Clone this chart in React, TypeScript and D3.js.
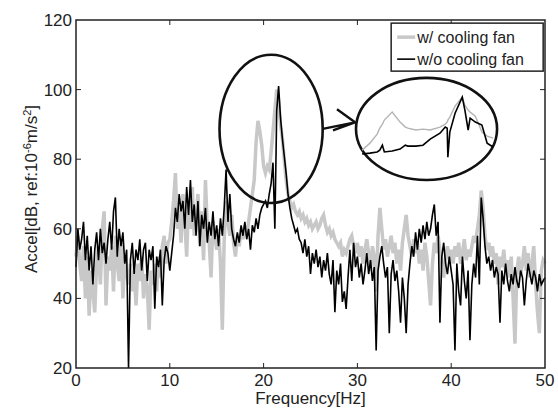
import * as d3 from 'd3';
import { useEffect, useRef } from 'react';

// spectra sampled every 0.2 Hz, 0..50 Hz
const freqStep = 0.2;

const withFan = [
  52, 58, 50, 45, 55, 40, 52, 35, 48, 42, 36, 50, 55, 44, 60, 65, 38, 52, 48, 55,
  42, 58, 50, 45, 56, 40, 52, 47, 44, 50, 42, 48, 38, 50, 45, 52, 40, 47, 43, 31,
  48, 44, 50, 42, 52, 46, 55, 58, 50, 56,
  57, 62, 68, 76, 60, 66, 56, 70, 62, 52, 68, 60, 72, 58, 63, 70, 55, 65, 51, 74,
  60, 56, 46, 62, 58, 54, 60, 50, 31, 57, 68, 62, 58, 64, 56, 52, 58, 55, 60, 57,
  61, 58, 62, 66, 70, 74, 85, 91, 88, 84,
  78, 76, 78, 77, 82, 88, 94, 100, 97, 90, 86, 80, 74, 70, 68, 66, 67, 65, 64, 65,
  63, 64, 62, 63, 61, 62, 60, 61, 62, 60, 61, 63, 64, 61, 59, 60, 58, 59, 57, 56,
  55, 56, 52, 54, 53, 55, 57, 58, 55, 53,
  56, 52, 55, 50, 54, 57, 53, 48, 55, 52, 42, 58, 66, 60, 54, 57, 52, 55, 58, 53,
  56, 50, 54, 48, 56, 60, 64, 58, 55, 52, 57, 53, 56, 50, 54, 48, 56, 52, 45, 38,
  50, 56, 53, 58, 54, 50, 46, 52, 55, 51,
  54, 50, 55, 52, 56, 50, 53, 57, 51, 54, 52, 55, 58, 56, 60, 64, 71, 66, 58, 54,
  56, 52, 55, 50, 53, 44, 52, 49, 54, 48, 51, 46, 52, 40, 27, 48, 52, 47, 50, 55,
  48, 53, 46, 50, 55, 44, 36, 30, 48, 51, 50,
];

const withoutFan = [
  49, 60, 54, 57, 62, 51, 58, 48, 55, 44, 54, 59, 51, 60, 53, 56, 50, 57, 62, 54,
  65, 69, 52, 60, 55, 59, 50, 54, 20, 51, 56, 47, 54, 51, 57, 48, 54, 56, 45, 54,
  51, 55, 37, 52, 49, 54, 38, 51, 55, 53,
  48, 53, 58, 66, 62, 70, 65, 68, 60, 72, 64, 74, 62, 67, 58, 68, 55, 64, 60, 66,
  56, 62, 58, 65, 57, 61, 55, 63, 58, 66, 77, 62, 70, 60, 57, 55, 59, 56, 61, 58,
  62, 57, 60, 54, 61, 59, 63, 60, 64, 66,
  67, 68, 66, 70, 73, 79, 60, 94, 101, 92, 86, 81, 76, 70, 66, 63, 61, 59, 60, 57,
  56, 53, 57, 52, 55, 47, 53, 50, 54, 49, 52, 46, 51, 48, 53, 47, 44, 51, 36, 48,
  44, 50, 39, 42, 37, 46, 54, 45, 56, 49,
  52, 46, 50, 44, 48, 53, 47, 51, 45, 49, 25, 48, 52, 55, 50, 46, 49, 30, 47, 51,
  45, 48, 42, 33, 46, 40, 30, 44, 50, 55, 52, 59, 54, 60, 56, 61, 57, 62, 58, 60,
  64, 67, 58, 62, 33, 52, 56, 50, 47, 52,
  48, 44, 25, 50, 42, 38, 52, 45, 40, 48, 28, 44, 50, 46, 58, 44, 69, 63, 55, 50,
  52, 48, 51, 46, 49, 47, 33, 48, 44, 50, 45, 42, 47, 44, 49, 45, 43, 48, 46, 38,
  45, 50, 47, 44, 48, 46, 42, 47, 44, 45, 46,
];

// magnified view of the peak shown in the right-hand ellipse
const insetFreq = [
  20.5, 20.62, 20.73, 20.77, 20.81, 20.84, 20.96, 21.08, 21.16, 21.2, 21.32, 21.43, 21.54, 21.69,
  21.77, 21.8, 21.81, 21.84, 21.92, 22.03, 22.07, 22.12, 22.15, 22.23, 22.33, 22.41, 22.5,
];
const insetWithFan = [
  73.2, 76.3, 80.3, 82.9, 84.7, 86.5, 90.0, 85.6, 83.4, 82.9, 82.1, 82.5, 82.1, 83.4,
  84.7, 85.6, 86.5, 87.8, 92.6, 96.6, 93.1, 90.9, 90.0, 88.2, 81.2, 79.4, 78.5,
];
const insetWithoutFan = [
  71.5, 71.9, 72.4, 73.2, 75.4, 72.4, 72.8, 73.7, 75.4, 75.0, 75.0, 75.4, 78.1, 80.7,
  83.4, 82.9, 70.1, 81.2, 89.5, 96.6, 90.9, 82.1, 87.3, 85.6, 84.3, 76.3, 74.6,
];

const xTicks = [0, 10, 20, 30, 40, 50];
const yTicks = [20, 40, 60, 80, 100, 120];
const seriesNames = ['w/ cooling fan', 'w/o cooling fan'];

export default function App() {
  const ref = useRef<SVGSVGElement>(null);

  useEffect(() => {
    const width = 558;
    const height = 412;
    const margin = { top: 20, right: 13, bottom: 44, left: 76 };
    const innerWidth = width - margin.left - margin.right;
    const innerHeight = height - margin.top - margin.bottom;
    const font = '"Liberation Sans", Arial, sans-serif';
    const ink = '#222';

    const svg = d3.select(ref.current);
    svg.selectAll('*').remove();
    svg.attr('width', width).attr('height', height);

    const x = d3.scaleLinear().domain([0, 50]).range([0, innerWidth]);
    const y = d3.scaleLinear().domain([20, 120]).range([innerHeight, 0]);

    const g = svg.append('g').attr('transform', `translate(${margin.left},${margin.top})`);

    const line = d3
      .line<number>()
      .x((_, i) => x(i * freqStep))
      .y((d) => y(d));

    g.append('path')
      .datum(withFan)
      .attr('d', line)
      .attr('fill', 'none')
      .attr('stroke', '#c8c8c8')
      .attr('stroke-width', 3.5);

    g.append('path')
      .datum(withoutFan)
      .attr('d', line)
      .attr('fill', 'none')
      .attr('stroke', '#000')
      .attr('stroke-width', 1.6);

    // axes box with inward ticks on all sides
    g.append('rect')
      .attr('width', innerWidth)
      .attr('height', innerHeight)
      .attr('fill', 'none')
      .attr('stroke', ink)
      .attr('stroke-width', 1.5);

    const tickLen = 5;
    xTicks.slice(1, -1).forEach((t) => {
      g.append('line').attr('x1', x(t)).attr('x2', x(t)).attr('y1', innerHeight).attr('y2', innerHeight - tickLen).attr('stroke', ink);
      g.append('line').attr('x1', x(t)).attr('x2', x(t)).attr('y1', 0).attr('y2', tickLen).attr('stroke', ink);
    });
    yTicks.slice(1, -1).forEach((t) => {
      g.append('line').attr('x1', 0).attr('x2', tickLen).attr('y1', y(t)).attr('y2', y(t)).attr('stroke', ink);
      g.append('line').attr('x1', innerWidth).attr('x2', innerWidth - tickLen).attr('y1', y(t)).attr('y2', y(t)).attr('stroke', ink);
    });

    g.selectAll('.xt')
      .data(xTicks)
      .enter()
      .append('text')
      .attr('x', (d) => x(d))
      .attr('y', innerHeight + 18)
      .attr('text-anchor', 'middle')
      .attr('font-family', font)
      .attr('font-size', 17)
      .attr('fill', ink)
      .text((d) => d);

    g.selectAll('.yt')
      .data(yTicks)
      .enter()
      .append('text')
      .attr('x', -4)
      .attr('y', (d) => y(d) + 6)
      .attr('text-anchor', 'end')
      .attr('font-family', font)
      .attr('font-size', 17)
      .attr('fill', ink)
      .text((d) => d);

    g.append('text')
      .attr('x', innerWidth / 2)
      .attr('y', innerHeight + 36)
      .attr('text-anchor', 'middle')
      .attr('font-family', font)
      .attr('font-size', 17)
      .attr('fill', ink)
      .text('Frequency[Hz]');

    const yLabel = svg
      .append('text')
      .attr('transform', 'translate(37,189) rotate(-90)')
      .attr('text-anchor', 'middle')
      .attr('font-family', font)
      .attr('font-size', 17)
      .attr('fill', ink);
    yLabel.append('tspan').text('Accel[dB, ref:10');
    yLabel.append('tspan').attr('dy', -6).attr('font-size', 11).text('-6');
    yLabel.append('tspan').attr('dy', 6).text('m/s');
    yLabel.append('tspan').attr('dy', -6).attr('font-size', 11).text('2');
    yLabel.append('tspan').attr('dy', 6).text(']');

    // legend
    const lg = g.append('g').attr('transform', `translate(${x(33.6)},${y(119.1)})`);
    lg.append('rect')
      .attr('width', 152)
      .attr('height', 48)
      .attr('fill', '#fff')
      .attr('stroke', ink)
      .attr('stroke-width', 1.5);
    const swatch = ['#c8c8c8', '#000'];
    seriesNames.forEach((name, i) => {
      const ly = 14 + i * 22;
      lg.append('line')
        .attr('x1', 6)
        .attr('x2', 24)
        .attr('y1', ly)
        .attr('y2', ly)
        .attr('stroke', swatch[i])
        .attr('stroke-width', i === 0 ? 3.5 : 1.6);
      lg.append('text')
        .attr('x', 26)
        .attr('y', ly + 6)
        .attr('font-family', font)
        .attr('font-size', 16)
        .attr('fill', ink)
        .text(name);
    });

    // ellipse around the peak, arrow, and magnified view
    const peak = { f: 20.8, db: 88.7, rf: 5.5, rdb: 21.3 };
    g.append('ellipse')
      .attr('cx', x(peak.f))
      .attr('cy', y(peak.db))
      .attr('rx', x(peak.rf) - x(0))
      .attr('ry', y(0) - y(peak.rdb))
      .attr('fill', 'none')
      .attr('stroke', '#111')
      .attr('stroke-width', 2.6);

    const zoomView = { f: 37.37, db: 88.7, rf: 7.52, rdb: 14.66 };
    g.append('ellipse')
      .attr('cx', x(zoomView.f))
      .attr('cy', y(zoomView.db))
      .attr('rx', x(zoomView.rf) - x(0))
      .attr('ry', y(0) - y(zoomView.rdb))
      .attr('fill', '#fff')
      .attr('stroke', '#111')
      .attr('stroke-width', 2.6);

    const tail = [x(peak.f + peak.rf), y(peak.db)];
    const tip = [x(zoomView.f - zoomView.rf) - 1, y(peak.db) - (y(0) - y(1.9))];
    g.append('path')
      .attr('d', `M${tail[0]},${tail[1]}L${tip[0]},${tip[1]}M${tip[0] - 18},${tip[1] - 13}L${tip[0]},${tip[1]}L${tip[0] - 22},${tip[1] + 8}`)
      .attr('fill', 'none')
      .attr('stroke', '#111')
      .attr('stroke-width', 2.4)
      .attr('stroke-linejoin', 'round');

    const ix = d3.scaleLinear().domain([20.5, 22.5]).range([x(30.5), x(44.46)]);
    const iy = d3.scaleLinear().domain([60, 105]).range([y(74), y(103.3)]);
    const insetLine = d3
      .line<number>()
      .x((_, i) => ix(insetFreq[i]))
      .y((d) => iy(d));
    g.append('path')
      .datum(insetWithFan)
      .attr('d', insetLine)
      .attr('fill', 'none')
      .attr('stroke', '#b4b4b4')
      .attr('stroke-width', 1.4);
    g.append('path')
      .datum(insetWithoutFan)
      .attr('d', insetLine)
      .attr('fill', 'none')
      .attr('stroke', '#000')
      .attr('stroke-width', 1.6);

    return () => {
      svg.selectAll('*').remove();
    };
  }, []);

  return <svg ref={ref} style={{ position: 'absolute', left: 0, top: 0, background: '#fff' }}></svg>;
}
